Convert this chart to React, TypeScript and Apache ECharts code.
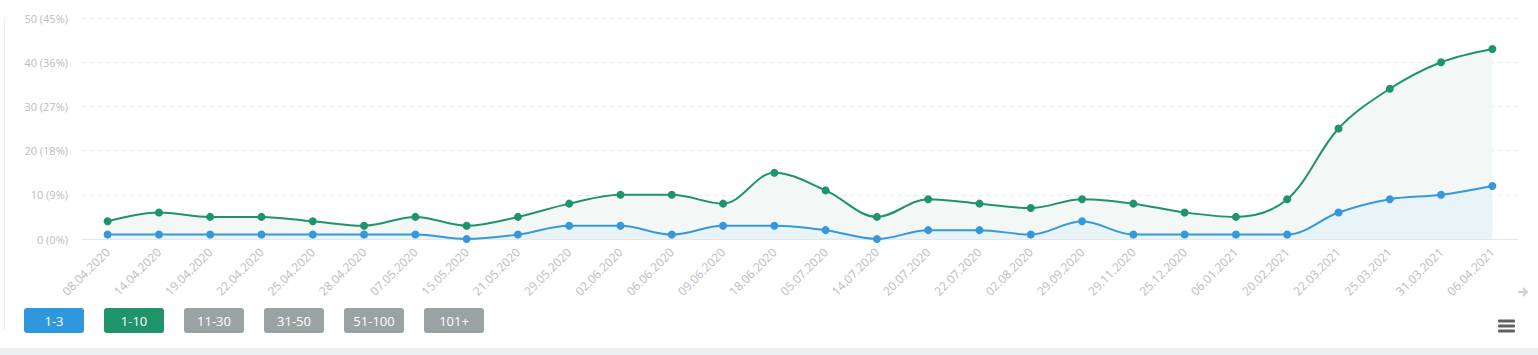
import React, { useEffect, useRef } from "react";
import * as echarts from "echarts";

const categories = [
  "08.04.2020", "14.04.2020", "19.04.2020", "22.04.2020", "25.04.2020", "28.04.2020",
  "07.05.2020", "15.05.2020", "21.05.2020", "29.05.2020", "02.06.2020", "06.06.2020",
  "09.06.2020", "18.06.2020", "05.07.2020", "14.07.2020", "20.07.2020", "22.07.2020",
  "02.08.2020", "29.09.2020", "29.11.2020", "25.12.2020", "06.01.2021", "20.02.2021",
  "22.03.2021", "25.03.2021", "31.03.2021", "06.04.2021",
];
const top10 = [4, 6, 5, 5, 4, 3, 5, 3, 5, 8, 10, 10, 8, 15, 11, 5, 9, 8, 7, 9, 8, 6, 5, 9, 25, 34, 40, 43];
const top3 = [1, 1, 1, 1, 1, 1, 1, 0, 1, 3, 3, 1, 3, 3, 2, 0, 2, 2, 1, 4, 1, 1, 1, 1, 6, 9, 10, 12];
const yTickLabels = ["0 (0%)", "10 (9%)", "20 (18%)", "30 (27%)", "40 (36%)", "50 (45%)"];
const legendNames = ["1-3", "1-10", "11-30", "31-50", "51-100", "101+"];
const legendColors = ["#2f97de", "#1f9468", "#99a3a4", "#99a3a4", "#99a3a4", "#99a3a4"];

export default function App() {
  const ref = useRef<HTMLDivElement>(null);
  useEffect(() => {
    document.body.style.margin = "0";
    const chart = echarts.init(ref.current!, undefined, { renderer: "svg" });
    const font = "'Open Sans', 'Noto Sans', sans-serif";
    const graphics: any[] = [];
    legendNames.forEach((n, i) => {
      graphics.push({
        type: "group",
        left: 24 + i * 80,
        top: 308,
        children: [
          { type: "rect", shape: { x: 0, y: 0, width: 60, height: 25, r: 3 }, style: { fill: legendColors[i] } },
          {
            type: "text",
            x: 30,
            y: 13,
            style: { text: n, fill: "#fff", font: `13px ${font}`, align: "center", verticalAlign: "middle" },
          },
        ],
      });
    });
    // left border
    graphics.push({ type: "line", shape: { x1: 4.5, y1: 18, x2: 4.5, y2: 330 }, style: { stroke: "#eeeeee", lineWidth: 1 } });
    // bottom band
    graphics.push({ type: "rect", shape: { x: 0, y: 348, width: 1538, height: 7 }, style: { fill: "#eceeef" } });
    // hamburger
    [321, 326, 331].forEach((y) => {
      graphics.push({ type: "rect", shape: { x: 1498, y: y - 1.5, width: 17, height: 3, r: 1 }, style: { fill: "#606060" } });
    });
    // arrow
    graphics.push({ type: "line", shape: { x1: 1518, y1: 292, x2: 1527, y2: 292 }, style: { stroke: "#d0d0d0", lineWidth: 2 } });
    graphics.push({ type: "polyline", shape: { points: [[1523, 288], [1527, 292], [1523, 296]] }, style: { stroke: "#d0d0d0", lineWidth: 2, fill: "none" } });

    chart.setOption({
      animation: false,
      grid: { left: 82, right: 20, top: 18, bottom: 116, containLabel: false },
      xAxis: {
        type: "category",
        data: categories,
        boundaryGap: true,
        axisLine: { lineStyle: { color: "#e6e6e6" } },
        axisTick: { show: false },
        axisLabel: { rotate: 45, interval: 0, color: "#bcbcc4", fontSize: 12, fontFamily: font, margin: 11 },
      },
      yAxis: {
        type: "value",
        min: 0,
        max: 50,
        interval: 10,
        axisLine: { show: false },
        axisTick: { show: false },
        axisLabel: {
          color: "#bcbcbc",
          fontSize: 11,
          fontFamily: font,
          margin: 14,
          formatter: (v: number) => yTickLabels[Math.round(v / 10)],
        },
        splitLine: { lineStyle: { color: "#e8e8e8", type: [4, 4] } },
      },
      series: [
        {
          name: "1-10",
          type: "line",
          data: top10,
          smooth: 0.35,
          symbol: "circle",
          symbolSize: 8,
          z: 2,
          lineStyle: { color: "#1f9468", width: 2 },
          itemStyle: { color: "#1f9468" },
          areaStyle: { color: "#f3f7f6", opacity: 1 },
        },
        {
          name: "1-3",
          type: "line",
          data: top3,
          smooth: 0.35,
          symbol: "circle",
          symbolSize: 8,
          z: 3,
          lineStyle: { color: "#3498db", width: 2 },
          itemStyle: { color: "#3498db" },
          areaStyle: { color: "#e9f4f8", opacity: 1 },
        },
      ],
      graphic: graphics,
    });
    return () => chart.dispose();
  }, []);
  return <div ref={ref} style={{ width: 1538, height: 355 }} />;
}
